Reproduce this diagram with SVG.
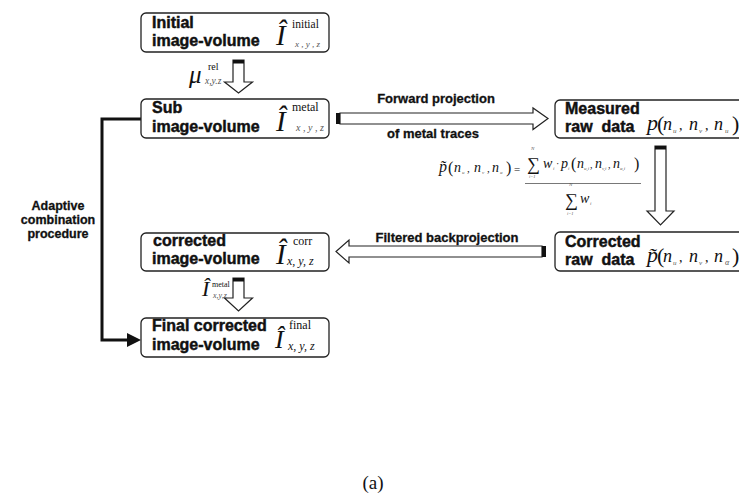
<svg xmlns="http://www.w3.org/2000/svg" width="739" height="495" viewBox="0 0 739 495">
<style>
.box{fill:#fff;stroke:#222;stroke-width:1.3}
.lbl{font-family:"Liberation Sans",Arial,sans-serif;font-weight:bold;font-size:16px;fill:#111;stroke:#111;stroke-width:0.45}
.al{font-family:"Liberation Sans",Arial,sans-serif;font-weight:bold;font-size:13px;fill:#111;stroke:#111;stroke-width:0.3}
.m{font-family:"Liberation Serif","Times New Roman",serif;fill:#111}
.mi{font-family:"Liberation Serif","Times New Roman",serif;font-style:italic;fill:#111}
.sub{font-family:"Liberation Serif","Times New Roman",serif;font-style:italic;fill:#555}
.arr{fill:#fff;stroke:#222;stroke-width:1.2;stroke-linejoin:miter}
.cap{fill:#111}
.con{fill:none;stroke:#111;stroke-width:3}
</style>

<g id="connectors">
  <path class="con" d="M141,119 H102 V340 H130"/>
  <polygon points="127,333 141,340 127,347" fill="#111"/>
  <!-- Initial -> Sub -->
  <path class="arr" d="M233,60 H244 V82 H252.5 L238.5,93 L224.5,82 H233 Z"/>
  <rect class="cap" x="233" y="60" width="11" height="3.5"/>
  <!-- corrected -> final -->
  <path class="arr" d="M233,278 H244 V298 H252.5 L238.5,311 L224.5,298 H233 Z"/>
  <rect class="cap" x="233" y="278" width="11" height="3.5"/>
  <!-- Measured -> Corrected -->
  <path class="arr" d="M655,146 H666 V211 H674 L660.5,225 L647,211 H655 Z"/>
  <rect class="cap" x="655" y="146" width="11" height="3.5"/>
  <!-- Forward projection -->
  <path class="arr" d="M340,113 H533 V108 L548,118.5 L533,129.5 V124 H340 Z"/>
  <rect class="cap" x="336" y="113" width="4" height="11"/>
  <!-- Filtered backprojection -->
  <path class="arr" d="M542,246 H349 V240 L336,251.5 L349,263 V257 H542 Z"/>
  <rect class="cap" x="542" y="246" width="4" height="11"/>
</g>

<g id="label-adaptive">
  <text class="al" text-anchor="middle" x="58" y="210" style="font-size:12.5px">Adaptive</text>
  <text class="al" text-anchor="middle" x="58" y="224" style="font-size:12.5px">combination</text>
  <text class="al" text-anchor="middle" x="58" y="238" style="font-size:12.5px">procedure</text>
</g>

<g id="label-forward">
  <text class="al" text-anchor="middle" x="436" y="103">Forward projection</text>
  <text class="al" text-anchor="middle" x="433" y="138">of metal traces</text>
</g>

<g id="label-filtered">
  <text class="al" text-anchor="middle" x="447" y="242">Filtered backprojection</text>
</g>

<g id="label-mu">
  <text class="mi" x="189" y="83" font-size="25">μ</text>
  <text class="m" x="208" y="70" font-size="10" fill="#444">rel</text>
  <text class="sub" x="205" y="84" font-size="9.5">x,y.z</text>
</g>

<g id="label-imetal">
  <text class="mi" x="202" y="296" font-size="22">Î</text>
  <text class="m" x="212" y="287" font-size="8" fill="#444">metal</text>
  <text class="sub" x="213" y="298" font-size="8">x,y,z</text>
</g>

<g id="node-initial">
  <rect class="box" x="141" y="13" width="188" height="39" rx="5"/>
  <text class="lbl" x="152" y="28">Initial</text>
  <text class="lbl" x="152" y="46">image-volume</text>
  <text class="mi" x="276" y="45" font-size="29">Î</text>
  <text class="m" x="292" y="28" font-size="11.5">initial</text>
  <text class="sub" x="295" y="47" font-size="9">x , y , z</text>
</g>

<g id="node-sub">
  <rect class="box" x="141" y="99" width="188" height="39" rx="5"/>
  <text class="lbl" x="152" y="113">Sub</text>
  <text class="lbl" x="152" y="132">image-volume</text>
  <text class="mi" x="276" y="131" font-size="29">Î</text>
  <text class="m" x="292" y="111" font-size="12">metal</text>
  <text class="sub" x="296" y="131" font-size="10">x , y , z</text>
</g>

<g id="node-corrected-image">
  <rect class="box" x="141" y="233" width="188" height="38" rx="5"/>
  <text class="lbl" x="153" y="246">corrected</text>
  <text class="lbl" x="152" y="264">image-volume</text>
  <text class="mi" x="276" y="264" font-size="29">Î</text>
  <text class="m" x="293" y="245" font-size="12">corr</text>
  <text class="mi" x="287" y="265" font-size="12">x, y, z</text>
</g>

<g id="node-final">
  <rect class="box" x="141" y="318" width="188" height="39" rx="5"/>
  <text class="lbl" x="152" y="331">Final corrected</text>
  <text class="lbl" x="152" y="350">image-volume</text>
  <text class="mi" x="275" y="348" font-size="26">Î</text>
  <text class="m" x="289" y="329" font-size="12">final</text>
  <text class="mi" x="288" y="350" font-size="12">x, y, z</text>
</g>

<g id="node-measured">
  <rect class="box" x="555" y="100" width="190" height="38" rx="5"/>
  <text class="lbl" x="565" y="114">Measured</text>
  <text class="lbl" x="565" y="132" xml:space="preserve">raw  data</text>
  <text class="mi" x="647" y="130" font-size="22">p</text>
  <text class="m" x="657" y="131" font-size="22">(</text>
  <text class="mi" x="663" y="130" font-size="18">n</text>
  <text class="sub" x="673" y="133" font-size="7">u</text>
  <text class="m" x="679" y="130" font-size="14">,</text>
  <text class="mi" x="689" y="130" font-size="18">n</text>
  <text class="sub" x="699" y="133" font-size="7">v</text>
  <text class="m" x="705" y="130" font-size="14">,</text>
  <text class="mi" x="714" y="130" font-size="18">n</text>
  <text class="sub" x="725" y="133" font-size="7">u</text>
  <text class="m" x="732" y="131" font-size="22">)</text>
</g>

<g id="node-corrected-raw">
  <rect class="box" x="555" y="232" width="190" height="39" rx="5"/>
  <text class="lbl" x="565" y="247">Corrected</text>
  <text class="lbl" x="565" y="265" xml:space="preserve">raw  data</text>
  <text class="mi" x="647" y="262" font-size="22">p&#x303;</text>
  <text class="m" x="657" y="263" font-size="22">(</text>
  <text class="mi" x="663" y="262" font-size="18">n</text>
  <text class="sub" x="673" y="265" font-size="7">u</text>
  <text class="m" x="679" y="262" font-size="14">,</text>
  <text class="mi" x="689" y="262" font-size="18">n</text>
  <text class="sub" x="699" y="265" font-size="7">v</text>
  <text class="m" x="705" y="262" font-size="14">,</text>
  <text class="mi" x="714" y="262" font-size="18">n</text>
  <text class="sub" x="725" y="265" font-size="8">α</text>
  <text class="m" x="732" y="263" font-size="22">)</text>
</g>

<g id="formula">
  <text class="mi" x="439" y="172" font-size="16">p&#x303;</text>
  <text class="m" x="448" y="173" font-size="16">(</text>
  <text class="mi" x="454" y="172" font-size="14">n</text>
  <text class="sub" x="462" y="174" font-size="5">u</text>
  <text class="m" x="467" y="172" font-size="11">,</text>
  <text class="mi" x="474" y="172" font-size="14">n</text>
  <text class="sub" x="482" y="174" font-size="5">v</text>
  <text class="m" x="487" y="172" font-size="11">,</text>
  <text class="mi" x="492" y="172" font-size="14">n</text>
  <text class="sub" x="500" y="174" font-size="5">α</text>
  <text class="m" x="506" y="173" font-size="16">)</text>
  <text class="m" x="514" y="173" font-size="11">=</text>
  <line x1="525" y1="183.5" x2="641" y2="183.5" stroke="#555" stroke-width="0.8"/>
  <text class="m" x="527" y="170" font-size="18">∑</text>
  <text class="sub" x="531" y="150" font-size="5">N</text>
  <text class="sub" x="529" y="178" font-size="4.5">i=1</text>
  <text class="mi" x="543" y="168" font-size="14">w</text>
  <text class="sub" x="553" y="170" font-size="5">i</text>
  <text class="m" x="556" y="167" font-size="10">·</text>
  <text class="mi" x="561" y="168" font-size="14">p</text>
  <text class="sub" x="568" y="170" font-size="5">i</text>
  <text class="m" x="571" y="169" font-size="16">(</text>
  <text class="mi" x="577" y="168" font-size="14">n</text>
  <text class="sub" x="584" y="170" font-size="5">u,i</text>
  <text class="m" x="590" y="168" font-size="10">,</text>
  <text class="mi" x="595" y="168" font-size="14">n</text>
  <text class="sub" x="602" y="170" font-size="5">v,i</text>
  <text class="m" x="608" y="168" font-size="10">,</text>
  <text class="mi" x="613" y="168" font-size="14">n</text>
  <text class="sub" x="620" y="170" font-size="5">α,i</text>
  <text class="m" x="634" y="169" font-size="16">)</text>
  <text class="m" x="565" y="206" font-size="18">∑</text>
  <text class="sub" x="569" y="186" font-size="5">N</text>
  <text class="sub" x="567" y="215" font-size="4.5">i=1</text>
  <text class="mi" x="580" y="203" font-size="14">w</text>
  <text class="sub" x="590" y="205" font-size="5">i</text>
</g>

<g id="caption">
  <text class="m" x="373" y="489" font-size="19" text-anchor="middle">(a)</text>
</g>
</svg>
